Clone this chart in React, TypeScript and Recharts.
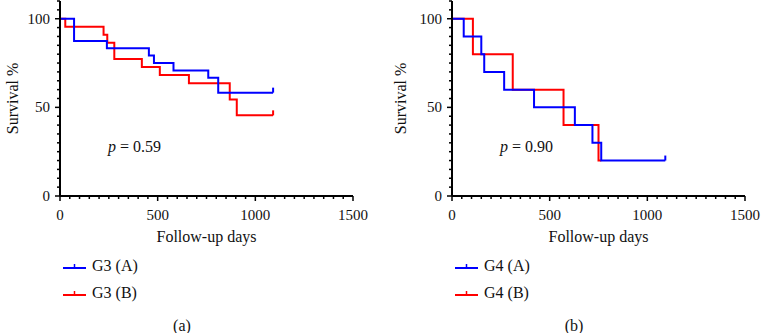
import React from "react";
import { LineChart, Line, XAxis, YAxis, Legend, Customized } from "recharts";

// Kaplan-Meier steps (days, survival %)
const g3aDays = [0, 72, 240, 455, 481, 581, 759, 810, 1091];
const g3aSurv = [100, 87.5, 83.3, 79.2, 75, 70.8, 66.7, 58.3, 58.3];
const g3bDays = [0, 27, 223, 242, 278, 419, 511, 660, 869, 905, 1091];
const g3bSurv = [100, 95.5, 90.9, 86.4, 77.3, 72.7, 68.2, 63.6, 54.5, 45.5, 45.5];

const g4aDays = [0, 60, 150, 165, 267, 420, 629, 719, 764, 1092];
const g4aSurv = [100, 90, 80, 70, 60, 50, 40, 30, 20, 20];
const g4bDays = [0, 107, 311, 571, 750, 764];
const g4bSurv = [100, 80, 60, 40, 20, 20];

const xTicks = Array.from({ length: 31 }, (_, i) => i * 50);
const yTicks = Array.from({ length: 23 }, (_, i) => i * 5);
const xMajor = [0, 500, 1000, 1500];
const yMajor = [0, 50, 100];

const FONT = "'Liberation Serif', 'Times New Roman', serif";
const BLUE = "#0000ff";
const RED = "#ff0000";

const toPoints = (days: number[], surv: number[]) =>
    days.map((d, i) => ({ day: d, surv: surv[i] }));

const XTick = (props: any) => {
    const { x, y, payload } = props;
    const major = xMajor.includes(payload.value);
    return (
        <g>
            <line x1={x} y1={y} x2={x} y2={y + (major ? 5 : 3)} stroke="#000" strokeWidth={1.5} />
            {major && (
                <text x={x} y={y + 24} textAnchor="middle" fontSize={15} fontFamily={FONT} fill="#111">
                    {payload.value}
                </text>
            )}
        </g>
    );
};

const YTick = (props: any) => {
    const { x, y, payload } = props;
    const major = yMajor.includes(payload.value);
    return (
        <g>
            <line x1={x} y1={y} x2={x - (major ? 5 : 3)} y2={y} stroke="#000" strokeWidth={1.5} />
            {major && (
                <text x={x - 10} y={y + 5} textAnchor="end" fontSize={15} fontFamily={FONT} fill="#111">
                    {payload.value}
                </text>
            )}
        </g>
    );
};

// censor mark at the final point of a series
const censorDot = (last: number, color: string, show: boolean) => (props: any) => {
    const { cx, cy, index } = props;
    if (!show || index !== last) return <g key={index} />;
    return <line key={index} x1={cx} y1={cy} x2={cx} y2={cy - 5} stroke={color} strokeWidth={2} />;
};

const renderLegend = (props: any) => {
    const items = [...(props.payload || [])].sort((a: any, b: any) =>
        String(a.value).localeCompare(String(b.value))
    );
    return (
        <div>
            {items.map((it: any) => (
                <div key={it.value} style={{ display: "flex", alignItems: "center", height: 26.5 }}>
                    <svg width={23} height={12}>
                        <line x1={0} y1={8} x2={23} y2={8} stroke={it.color} strokeWidth={2} />
                        <line x1={11.5} y1={8} x2={11.5} y2={4} stroke={it.color} strokeWidth={1.5} />
                    </svg>
                    <span style={{ marginLeft: 6, fontSize: 16, fontFamily: FONT, color: "#111" }}>{it.value}</span>
                </div>
            ))}
        </div>
    );
};

type PanelProps = {
    left: number;
    nameA: string;
    nameB: string;
    a: { day: number; surv: number }[];
    b: { day: number; surv: number }[];
    bCensored: boolean;
    pText: string;
    tag: string;
    yLabelOffset: number;
};

function Panel({ left, nameA, nameB, a, b, bCensored, pText, tag, yLabelOffset }: PanelProps) {
    return (
        <div style={{ position: "absolute", left, top: 0 }}>
            <LineChart width={380} height={333} margin={{ top: 1, right: 27, bottom: 107, left: 0 }}>
                <XAxis
                    type="number"
                    dataKey="day"
                    domain={[0, 1500]}
                    ticks={xTicks}
                    interval={0}
                    tick={<XTick />}
                    tickLine={false}
                    tickSize={0}
                    tickMargin={0}
                    height={30}
                    axisLine={{ stroke: "#000", strokeWidth: 2 }}
                    allowDuplicatedCategory={false}
                    label={{
                        value: "Follow-up days",
                        position: "bottom",
                        offset: 5,
                        style: { fontSize: 16, fontFamily: FONT, fill: "#111" }
                    }}
                />
                <YAxis
                    type="number"
                    dataKey="surv"
                    domain={[0, 110]}
                    ticks={yTicks}
                    interval={0}
                    tick={<YTick />}
                    tickLine={false}
                    tickSize={0}
                    tickMargin={0}
                    width={60}
                    axisLine={{ stroke: "#000", strokeWidth: 2 }}
                    label={{
                        value: "Survival %",
                        angle: -90,
                        position: "insideLeft",
                        offset: yLabelOffset,
                        style: { textAnchor: "middle", fontSize: 16, fontFamily: FONT, fill: "#111" }
                    }}
                />
                <Line
                    data={b}
                    dataKey="surv"
                    name={nameB}
                    type="stepAfter"
                    stroke={RED}
                    strokeWidth={2}
                    dot={censorDot(b.length - 1, RED, bCensored)}
                    activeDot={false}
                    isAnimationActive={false}
                />
                <Line
                    data={a}
                    dataKey="surv"
                    name={nameA}
                    type="stepAfter"
                    stroke={BLUE}
                    strokeWidth={2}
                    dot={censorDot(a.length - 1, BLUE, true)}
                    activeDot={false}
                    isAnimationActive={false}
                />
                <Legend
                    layout="vertical"
                    verticalAlign="middle"
                    align="center"
                    content={renderLegend}
                    wrapperStyle={{ left: 63, top: 253, width: 200, height: 53 }}
                />
                <Customized
                    component={() => (
                        <g fontFamily={FONT} fontSize={16} fill="#111">
                            <text x={108} y={152}>
                                <tspan fontStyle="italic">p</tspan> = {pText}
                            </text>
                            <text x={182} y={331} textAnchor="middle">
                                {tag}
                            </text>
                        </g>
                    )}
                />
            </LineChart>
        </div>
    );
}

export default function App() {
    return (
        <div style={{ position: "absolute", left: 0, top: 0, width: 762, height: 333, background: "#fff" }}>
            <Panel
                left={0}
                nameA="G3 (A)"
                nameB="G3 (B)"
                a={toPoints(g3aDays, g3aSurv)}
                b={toPoints(g3bDays, g3bSurv)}
                bCensored={true}
                pText="0.59"
                tag="(a)"
                yLabelOffset={12}
            />
            <Panel
                left={392}
                nameA="G4 (A)"
                nameB="G4 (B)"
                a={toPoints(g4aDays, g4aSurv)}
                b={toPoints(g4bDays, g4bSurv)}
                bCensored={false}
                pText="0.90"
                tag="(b)"
                yLabelOffset={8}
            />
        </div>
    );
}
